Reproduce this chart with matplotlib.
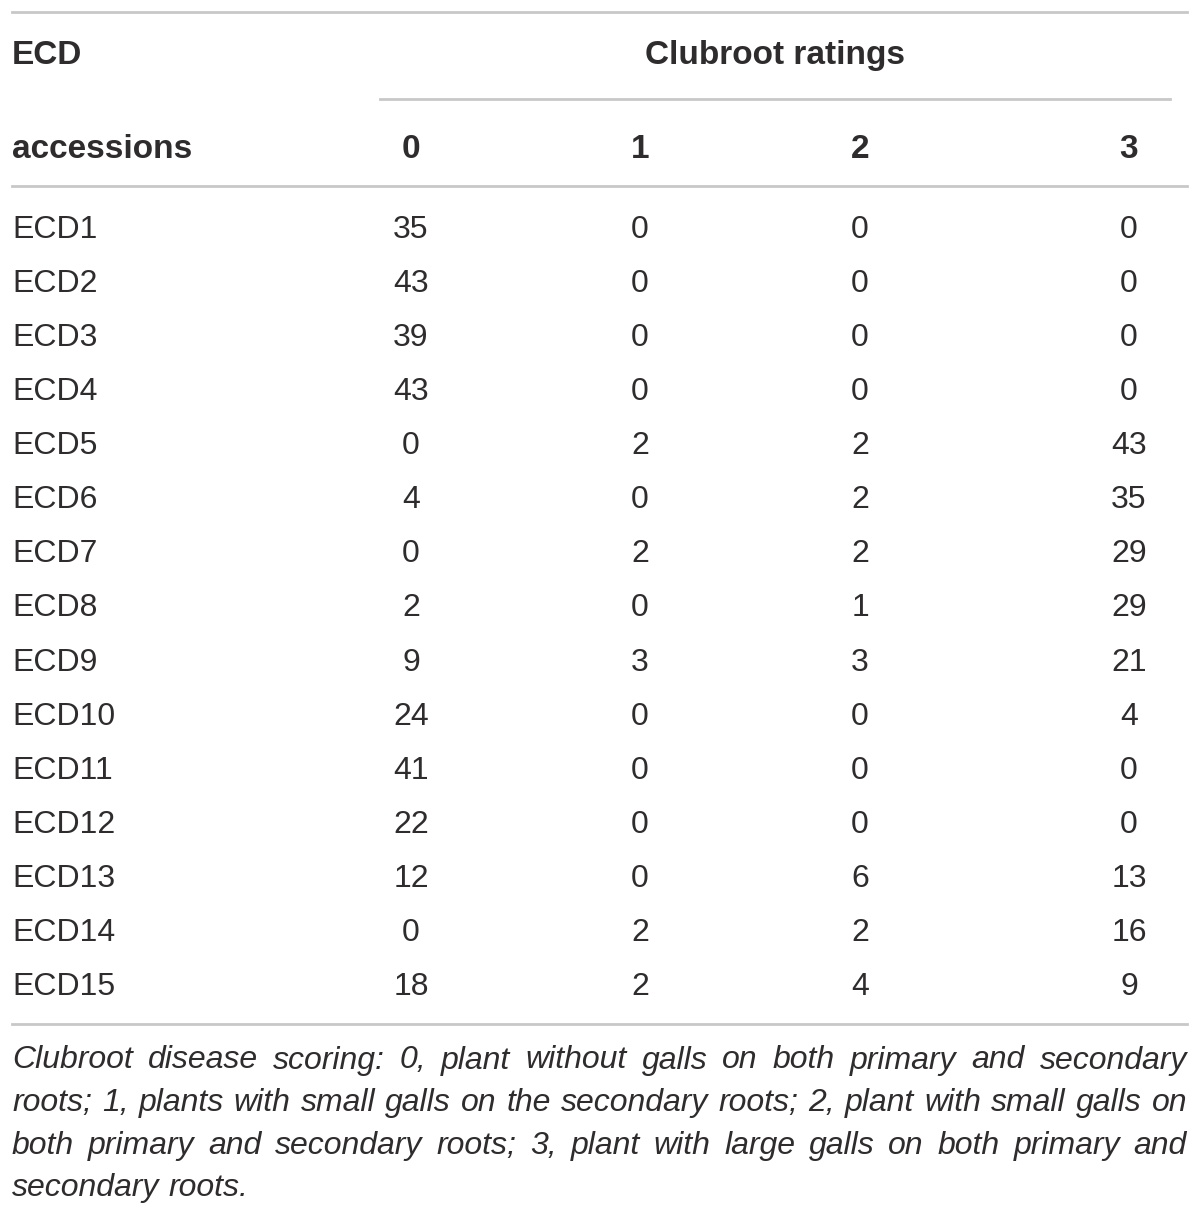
import matplotlib
matplotlib.use("Agg")
import matplotlib.pyplot as plt

# data
accessions = ["ECD1", "ECD2", "ECD3", "ECD4", "ECD5", "ECD6", "ECD7", "ECD8",
              "ECD9", "ECD10", "ECD11", "ECD12", "ECD13", "ECD14", "ECD15"]
rating_0 = [35, 43, 39, 43, 0, 4, 0, 2, 9, 24, 41, 22, 12, 0, 18]
rating_1 = [0, 0, 0, 0, 2, 0, 2, 0, 3, 0, 0, 0, 0, 2, 2]
rating_2 = [0, 0, 0, 0, 2, 2, 2, 1, 3, 0, 0, 0, 6, 2, 4]
rating_3 = [0, 0, 0, 0, 43, 35, 29, 29, 21, 4, 0, 0, 13, 16, 9]
rating_labels = ["0", "1", "2", "3"]
footnote_lines = [
    "Clubroot disease scoring: 0, plant without galls on both primary and secondary",
    "roots; 1, plants with small galls on the secondary roots; 2, plant with small galls on",
    "both primary and secondary roots; 3, plant with large galls on both primary and",
    "secondary roots.",
]

W, H = 1200, 1215
fig = plt.figure(figsize=(W / 100, H / 100), dpi=100)
ax = fig.add_axes([0, 0, 1, 1])
ax.set_xlim(0, W)
ax.set_ylim(H, 0)
ax.axis("off")

FONT = "Liberation Sans"
TXT = "#2f2c2d"
LINE = "#c8c8c8"
FS = 23
FS_B = 24
FS_N = 23

col_x = [411, 640, 860, 1129]
left_x = 12
right_x = 1187

# rules
ax.plot([left_x, right_x], [12, 12], color=LINE, lw=2)
ax.plot([380, 1170], [99, 99], color=LINE, lw=2)
ax.plot([left_x, right_x], [186, 186], color=LINE, lw=2)
ax.plot([left_x, right_x], [1024, 1024], color=LINE, lw=2)

# header
ax.text(left_x, 52, "ECD", fontsize=FS_B, fontweight="bold", family=FONT,
        color=TXT, va="center_baseline", ha="left")
ax.text(left_x, 146, "accessions", fontsize=FS_B, fontweight="bold", family=FONT,
        color=TXT, va="center_baseline", ha="left")
ax.text(775, 52, "Clubroot ratings", fontsize=FS_B, fontweight="bold", family=FONT,
        color=TXT, va="center_baseline", ha="center")
for x, lab in zip(col_x, rating_labels):
    ax.text(x, 146, lab, fontsize=FS_B, fontweight="bold", family=FONT,
            color=TXT, va="center_baseline", ha="center")

# body
y0, dy = 226.5, 54.07
cols = [rating_0, rating_1, rating_2, rating_3]
for i, name in enumerate(accessions):
    y = y0 + i * dy
    ax.text(left_x, y, name, fontsize=FS, family=FONT, color=TXT,
            va="center_baseline", ha="left")
    for x, col in zip(col_x, cols):
        ax.text(x, y, str(col[i]), fontsize=FS, family=FONT, color=TXT,
                va="center_baseline", ha="center")

# footnote, justified
fig.canvas.draw()
renderer = fig.canvas.get_renderer()
fy0, fdy = 1057, 42.6


def text_width(s):
    t = ax.text(0, 0, s, fontsize=FS_N, family=FONT, style="italic")
    w = t.get_window_extent(renderer).width
    t.remove()
    return w


space_w = text_width("a a") - text_width("aa")
for k, line in enumerate(footnote_lines):
    y = fy0 + k * fdy
    words = line.split(" ")
    widths = [text_width(w) for w in words]
    if k == len(footnote_lines) - 1:
        gap = space_w
    else:
        gap = (right_x - left_x - sum(widths)) / (len(words) - 1)
    x = left_x
    for w, wd in zip(words, widths):
        ax.text(x, y, w, fontsize=FS_N, family=FONT, style="italic",
                color=TXT, va="center_baseline", ha="left")
        x += wd + gap

fig.savefig("out.png", dpi=100)
